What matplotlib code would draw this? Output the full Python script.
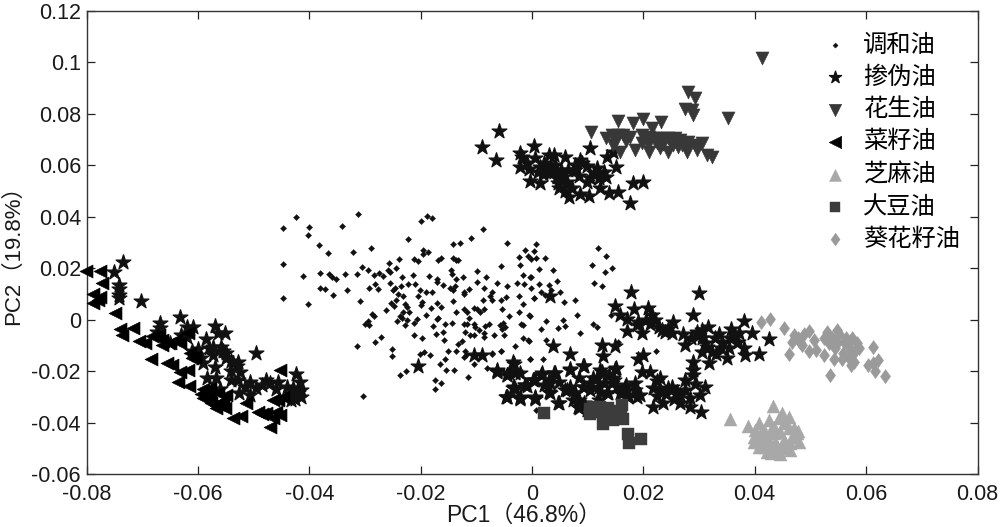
import matplotlib
matplotlib.use("Agg")
import matplotlib.pyplot as plt
import numpy as np

plt.rcParams['font.family'] = ['Liberation Sans', 'Noto Sans CJK SC']

# scores are written in units of 1e-3 and scaled when plotted
blend_x = [-44.8,-42.4,-40.1,-40.3,-44.8,-41.2,-44.8,-40.3,-38.2,-36.6,-38.1,-36.4,-35.9,-35.2,-38.1,-37.2,-35.8,-33.3,-33.5,-34.2,-31.3,-32.1,-29.0,-31.5,-30.6,-29.4,-30.9,-29.2,-28.2,-27.6,-28.4,-27.4,-26.7,-25.7,-23.9,-25.8,-24.5,-25.5,-25.5,-23.3,-21.4,-22.2,-20,-18.9,-17.9,-8.8,-11,-14.2,-13,-4.5,-19.5,-19.6,-18.6,-21.2,-20.4,-16.8,-16.4,-14.1,-13.7,-13.2,-14.6,-14.3,-9.9,-5.5,-2.1,-2.4,-1.2,-0.8,-0.2,0.4,0.8,0.7,-18.5,-17.1,-17.1,-13.6,-12.4,-9.9,-8.3,-6.3,-4.4,-2.7,-1.4,-1.7,-0.2,-0.2,1.3,-15.9,-14.8,-14.2,-13.8,-21,-22.2,-23.6,-24.6,-24.9,-20.2,-19.1,-17.9,-24,-23.1,-20.4,-19.7,-20,-24.4,-25.4,-24.8,-26.2,-22.8,-22.5,-22,-23.1,-28.8,-28.4,-29.5,-30,-29.2,-24.3,-23.7,-23.4,-22.8,-22.4,-21.2,-20.6,-19.1,-18.1,-17.1,-16.3,-14.2,-13.7,-12.3,-12.3,-12.2,-11.3,-8.7,-8.8,-10.4,-9.9,-11.6,-8.7,-9.3,-11.3,-7.2,-7.5,-7.2,-5.6,-4.7,-5.4,-2.3,-1.7,-2.4,-4.2,0.4,-0.3,-2,-1.7,-5.7,-5.2,-4.8,-5.4,-7.8,-8.4,-12.3,-11.7,-10.4,-10.2,-12,-14.4,-15.6,-16.9,-17.1,-17.7,-17.3,-16,-15.8,-21.2,-19.7,-27.2,-28.2,-31.5,-25.1,-25.1,-20.1,-19.4,-18.3,-16.6,-15.6,-15.4,-14,-23.7,-22.7,-17.5,-16.3,-17.5,-11.5,-30.3,-15,-13.6,-13.2,-12.6,-12,-11.9,-12.3,-10.4,-7.2,-5.5,-3,-8,-11.1,-10.5,-9.6,-8.7,-8.7,-6.9,-5.1,-1.7,-0.6,-0.3,5.8,8,5.6,6,4.7,10.9,11.7,8.6,2.5,1.7,2.5,-0.7,-5.6,-0.4,2,-7.2,15.5,22.2,14.1,1.7,0.4,-0.5,0.8,11.9,13.3,10.8,14.4,13.1,2.3,3.8,2.3,5,7.7,-0.4,11.2,12.5,3.1,3.4,4.4,1.2]
blend_y = [35.5,39.9,36.0,32.9,21.8,16.8,8.4,6.2,28.9,25.8,18.1,17.6,16.6,15.9,12.4,12.0,9.7,11.5,17.6,36.4,41.0,26.2,28.0,17.6,20.5,19.4,7.1,12.4,13.7,12.0,17.2,18.1,16.8,22.1,23.4,19.2,20.0,18.5,14.2,16.4,17.2,31.5,38.2,40.4,39.5,35.1,31.9,29.3,29.8,29.8,27,25.6,26.2,23.4,22.9,23.1,24.1,24.1,23.1,23.1,19.4,17.6,19,20.8,21.4,24.4,27.2,24.6,23.6,26.7,29.4,24.1,16.8,15.9,14.5,15.9,16.4,14.6,16.4,14.2,12.9,14.2,13.7,17.2,16.4,12.4,13.7,13.3,12.4,11.6,13.1,14,13.7,13.2,12.4,11.4,11.6,10.6,10.6,10.1,9.3,9.2,6.8,5.7,7.7,6.6,5.2,3.9,6.2,4.9,3,3,2.3,1.4,-0.6,-1.8,-2.2,-0.6,1.6,0.7,-1.9,-0.3,-1.3,0.4,2,4.5,6.6,4.9,7.1,2.9,4,10.7,9.8,12,12.4,7.5,4.6,4.1,2.9,4.2,2.9,0.7,10.7,9.2,7.5,7.5,8.8,4.2,9.2,6.2,2.9,1.6,8.4,1.6,-1.6,-2.2,-2.2,-1.3,-2.9,-3.5,-1.8,-2.6,-1.8,-1.8,-1.6,-2.9,-4.8,-1.2,-1.8,0.7,0.4,-2.5,-5.5,-4.8,-7.8,-6,-7.3,-6.8,-8.6,-10.4,-11.3,-14.3,-13.5,-12.6,-13.9,-17.2,-15.2,-19.4,-19.4,-21.6,-20.1,-23.6,-24.7,-26.9,-22.3,-29.6,-12.2,-12,-9.6,-8.1,-12,-13.7,-14.6,-17.4,-13.3,-12.2,-10.3,-18.8,-6.1,-6.1,-4.2,-5.2,-6.8,-6.1,-5.9,-7,-8.1,-15.2,6.9,1.7,0,-2.6,-3.1,-1.8,-2.9,-5.2,-0.5,-3.5,-8,-8,-12,-15.2,-15.2,-12.9,-8.7,-12.2,1.9,10.8,8.5,1.7,-35.3,28,24.6,21.2,20,18.6,23.9,19.2,9.5,10.6,7.5,16.5,14.1,13.2,13.6,11.4,15.2,19.7]

adult_x = [-73.4,-75.1,-74.2,-74.2,-74.2,-74.2,-70.3,-66.8,-66.8,-67.3,-63.2,-62,-60.8,-62,-57,-56.4,-55.2,-58.6,-49.5,-60.2,-59,-57.3,-55.8,-54.9,-57.3,-57,-58.4,-56.7,-53.7,-52.8,-52.5,-54,-52.8,-50.7,-49.5,-47.7,-47,-45.6,-42.3,-41.7,-41.4,-42,-42.9,-44.1,-43.2,-52.6,-50.7,
 -55,-54,-53,-55.5,-60,-59.5,-61,-58,-54,-51.5,-46,-44,-43,-41.5,-42.5,-48.5,-63,-65,-56,
 -5.9,-9,-6.5,0.3,-2.1,-1.8,-2.2,0.6,-0.9,3,3.9,6,1.5,2.7,4.2,3.3,4.5,5.1,-0.3,1.4,6.3,7.2,4.8,6.6,8.7,10.2,7.8,8.7,7.8,9.9,11.7,11.1,9.9,12.3,13.2,10.5,13.4,14.6,15.1,13.9,15.4,18.1,19.9,17.6,
 2.2,2,3.5,4,5.2,5.5,1,-0.5,6.5,4.7,6,8.5,9,12,13,10.5,
 3.2,17.8,29.9,14.9,18.3,20.9,15.8,17,21.5,22.1,28.9,25.4,18.8,21.2,17,19.8,23.3,23.9,25.1,27.2,29.6,31.6,30.5,29.9,38.1,35.7,37.1,39.5,42.5,32.9,34.1,35.3,35.6,38,38.3,40.7,27.5,30.5,32.3,31.7,35,29,29,27.5,29,3.8,6.8,12.5,14.9,12.8,19.9,19.1,-3.4,-6.2,-4.2,-3,6.8,9.2,12.2,14.9,11,19.7,21.2,23,4.1,1.7,0.2,3,-1.3,-3.4,-4.6,-2.2,0.5,3.2,4.7,6.2,7.7,7.4,8.3,9.8,9.2,10.4,12,14.3,14.6,13.7,12,16.7,17.3,19.4,15.8,21.8,21.8,23.6,24.5,25.1,26.6,26.5,28.4,28.4,30.3,30.2,31.1,23,18.5,
 -20.5,-10.4,-9,-6.2,-3.3,-3.3,-4.5,-3,-4.5,-2.1,0.6,-0.9,0.6,
 -6.3,-4.5,-3,-2.1,-3.3,-1.2,0.3,-4.5,-2.1,0.6,1.8,3.9,3.3,2.1,4.8,3,4.8,6,6.9,7.8,6.9,9.3,8.4,9.3,8.4,9.3,8.4,10.5,11.7,12.6,12.9,13.8,15,14.7,15.3,13.5,12.3,16.8,18.5,18.8,17.3,16.2,
 22.5,24,25.5,27.5,22.5,26,29.3,33.5,31,33,31.5,34,36.5,37,28.5,30.5,19,20.5,22.8,24.5]
adult_y = [22.5,18.6,13.5,11.8,9.6,8.3,7.4,-1.4,-3.4,-4.7,0.9,-2.7,-3,-6.6,-2.5,-5.1,-5.1,-7.6,-13.1,-13.7,-17,-10.5,-10.5,-13.1,-13.7,-18.3,-22.8,-22.8,-17,-16.3,-20.2,-23.4,-23.4,-24.1,-26.7,-23.4,-24.8,-24.1,-21.1,-24.1,-27.3,-28.6,-29.9,-29.9,-31.2,-28.4,-29.3,
 -15,-16,-18,-12,-11.5,-15,-12,-11,-20,-26,-27,-26,-26.5,-30,-31,-25.5,-6,-9,-27,
 73.5,67.2,62,67.5,64.7,63.1,59.5,62.7,60.8,64,64,63.4,59.5,58.8,60.1,56.9,55.6,54.3,54,53,53.6,51,51,47.8,48.9,48.1,60.1,62.1,58.2,59.7,58.8,56.9,53.6,51,55.3,66.9,63.1,65.3,59.5,49.1,49.8,53.3,53.6,45.2,
 61,56.5,59.5,57.5,58,55.5,57.5,58.5,58,53,50,56,60.8,55,57.5,55,
 9.2,10.9,10.2,5.3,4,4.4,1.8,0.1,1.8,-0.2,1.8,-1.1,-2.1,-1.5,-4.3,-5.1,-4,-4.7,-5.3,-5.6,-4.7,-2.7,-7.3,-6,-0.4,-3.8,-5.3,-5.3,-7.7,-7.3,-8.6,-11.2,-7.3,-11.2,-13.8,-13.5,-9.9,-12.5,-12.5,-17,-15,-16.4,-19.6,-23.5,-21.5,-10.3,-13.4,-9.9,-10.3,-14.1,-13.8,-15.4,-16.3,-19.6,-20.9,-20.2,-19.3,-18,-19.6,-19,-22.8,-20.2,-20.2,-22.8,-20.9,-21.5,-23.5,-23.5,-25.4,-26.7,-30.2,-30.2,-30.2,-28.7,-32.5,-27.4,-28.7,-31.2,-33.8,-35.1,-26.1,-27.4,-26.1,-24.8,-22.8,-28.7,-31.2,-26.1,-29.3,-29.3,-28.7,-26.7,-34.1,-32.5,-26.7,-26.1,-29.3,-32.5,-30.6,-33.8,-35.8,-29.3,-26.3,-27.4,-24.8,
 -18.1,-13.9,-13.9,-20.4,-17.2,-20.4,-21.7,-26.9,-30.1,-30.8,-23.6,-25.6,-30.8,
 -19.8,-21.5,-20.9,-20.9,-26,-25.4,-23.5,-30,-30.6,-30.6,-20.9,-20.9,-24.8,-25.4,-24.1,-28,-32.5,-27.3,-26,-28.6,-19.6,-18,-22.8,-26,-31.2,-32.5,-34.5,-24.8,-22.8,-20.2,-24.8,-21.5,-18.9,-23.5,-26,-28.6,-28,-25.4,-27.3,-30,-30,-28.6,
 -24,-29,-31,-27.5,-29.5,-28,-25,-5.5,-9,-13.5,-10.5,-11,-6.5,-8.5,-7,-4,-1,0,-3,-3.5]

peanut_x = [10.6,15.5,18.1,19.9,23.2,21.5,28,29.3,27.5,28.7,29,35.2,41.3,13.2,14.3,15.5,16.4,17.6,14.6,15.8,18.5,19.7,21,22.1,23.3,24.5,25.7,26.6,28.1,19.7,21,21,22.4,23.6,24.5,25.4,26.3,27.8,28.1,29.3,30.5,29.6,31.4,32.3,15,16.8,20.5,22,23,25,27]
peanut_y = [73.1,77.2,76.6,77.9,77,74.4,88.4,86,81.8,81.5,79.6,78.3,101.8,70.5,71.8,71.8,71.8,71.1,67.9,65.3,66,71.8,71.1,70.5,70.5,70.5,70.5,69.8,69.2,68.5,68.5,65.3,68.5,68.3,65.3,67.9,67.3,65.3,67.3,67.9,68.5,66,64,63.1,69.5,69.5,69.8,69.5,66.8,68.8,67.8]

rapeseed_x = [-80.1,-77.6,-77.2,-78.8,-77.6,-77.9,-78.8,-74.8,-73.9,-73.7,-71.7,-70.6,-69.5,-68.3,-68.4,-66.4,-66.5,-65,-63.2,-65.6,-64.7,-63.2,-61.7,-63.5,-61.6,-60.5,-58.7,-59,-57.8,-57.6,-56.4,-57.8,-56.7,-55.2,-54.9,-53.7,-52.2,-51.3,-49.2,-47.7,-47.1,-45.3,-46.5,-45.3,-45.6,-44.7,-46.5,-61.7,-59,-58,-57,-55.5,-56,-59.5,-48.5,-46,-61.5,-61,-67,-64]
rapeseed_y = [18.9,18.9,14.4,10,8.9,7.6,6.6,2.7,-3.8,-6,-3.4,-8.2,-9,-6.4,-15.3,-7.9,-9.8,-9.2,-9.2,-16.7,-17.6,-20.2,-19.6,-24.4,-25.8,-14.4,-28,-30.6,-29.9,-32.5,-28.6,-26.7,-34.5,-34.5,-29.3,-38.3,-37.4,-32.5,-35.8,-36.4,-41.6,-37.1,-38.3,-19.6,-31.2,-29.9,-31.2,-5.3,-27,-31,-33,-31.5,-33,-29,-36.5,-36,-13,-15,-6,-8]

sesame_x = [35.6,43.2,38.7,40.7,42.6,44.9,46.2,44.3,47.7,48,46.4,44.5,42.2,40.7,39.8,41.6,43.4,45.2,41,42.2,43.4,44.6,46.1,41,42.5,43.7,45.2,46.7,43.7,45.2,46.4,42.8,41.9,40,39.9,40.9,47,47.5,42.9,44]
sesame_y = [-38.6,-33.6,-41.4,-40.3,-39,-36.4,-37.7,-38.4,-43.2,-47.5,-50.7,-52.2,-51.3,-49.4,-45.5,-42.9,-41.6,-40.3,-44.9,-45.5,-44.2,-43.6,-42.3,-47.5,-48.1,-47.5,-46.8,-45.5,-50.7,-50,-48.1,-43.6,-49.4,-43,-47.5,-46.5,-42,-44,-52,-49]

soybean_x = [2.2,10.4,12.2,13.7,13.1,16.1,15.2,16.4,14,12.8,17.3,17.4,19.5,11,11.8,13,15,15.8,14.5,16,10.5]
soybean_y = [-36.4,-34.9,-34.1,-34.5,-37.1,-33.2,-38.4,-38.8,-37.7,-40.7,-44.5,-47.8,-46.3,-33.8,-36,-35.5,-36,-35.5,-39,-36.5,-36.5]

sunflower_x = [41.1,42.8,45.2,47.1,46.7,46.1,48.2,48.8,49.7,48.5,49.8,51,50.6,52.4,53,54.8,53.3,52.4,54.2,54.5,55.7,53.6,56.3,57.5,58.4,58.7,57.5,57.8,57.2,56,56.9,55.1,54.8,61.3,62.2,60.4,61.3,61.6,63.3,47.8,55.8,57,58,53.9]
sunflower_y = [-0.8,0.2,-3.4,-6,-8.6,-13.4,-8.6,-5.4,-4.3,-9.9,-12.1,-11.6,-7.9,-7.3,-4.7,-4.1,-9.2,-13.8,-15.1,-11.2,-15.1,-21.5,-7.3,-7.3,-9.2,-11.2,-13.8,-16.4,-17.7,-8.6,-10.5,-5.4,-9.2,-10.8,-15.5,-17.7,-17,-19.9,-21.9,-7,-13,-15,-12,-7]

labels = ['调和油', '掺伪油', '花生油', '菜籽油', '芝麻油', '大豆油', '葵花籽油']
x_ticks = [-0.08, -0.06, -0.04, -0.02, 0, 0.02, 0.04, 0.06, 0.08]
y_ticks = [-0.06, -0.04, -0.02, 0, 0.02, 0.04, 0.06, 0.08, 0.1, 0.12]

diamond = [(0, 1), (0.72, 0), (0, -1), (-0.72, 0)]
small_diamond = [(0, 1), (1, 0), (0, -1), (-1, 0)]

fig = plt.figure(figsize=(10, 5.27), dpi=100)
ax = fig.add_axes([0.0865, 1 - 474 / 527, 0.891, 463 / 527])

series = [
    (blend_x, blend_y, small_diamond, 20, '#111111', 0.3),
    (adult_x, adult_y, '*', 125, '#111111', 0.9),
    (peanut_x, peanut_y, 'v', 88, '#383838', 0.4),
    (rapeseed_x, rapeseed_y, '<', 88, '#000000', 0.4),
    (sesame_x, sesame_y, '^', 88, '#a8a8a8', 0.3),
    (soybean_x, soybean_y, 's', 66, '#3c3c3c', 0.3),
    (sunflower_x, sunflower_y, diamond, 105, '#9a9a9a', 0.3),
]
for (xs, ys, marker, size, color, edge), label in zip(series, labels):
    ax.scatter(np.array(xs) / 1000, np.array(ys) / 1000, marker=marker, s=size,
               color=color, linewidths=edge, label=label, clip_on=False, zorder=3)

ax.set_xlim(-0.08, 0.08)
ax.set_ylim(-0.06, 0.12)
ax.set_xticks(x_ticks)
ax.set_xticklabels([str(t) for t in x_ticks])
ax.set_yticks(y_ticks)
ax.set_yticklabels([str(t) for t in y_ticks])
ax.tick_params(axis='both', direction='in', length=6, width=0.9, labelsize=15.5, top=True, right=True,
               color='#222222', labelcolor='#1a1a1a')
ax.tick_params(axis='x', pad=7)
ax.tick_params(axis='y', pad=4)
for spine in ax.spines.values():
    spine.set_linewidth(1.0)
    spine.set_color('#333333')

ax.set_xlabel('PC1（46.8%）', fontsize=16.5, color='#1a1a1a')
ax.xaxis.set_label_coords(0.491, -0.065, transform=ax.transAxes)
ax.set_ylabel('PC2（19.8%）', fontsize=16, color='#1a1a1a')
ax.yaxis.set_label_coords(-0.07, 0.484, transform=ax.transAxes)

leg = ax.legend(loc='upper left', bbox_to_anchor=(0.805, 0.965), frameon=False,
                fontsize=17.5, labelspacing=0.4, handletextpad=0.15, borderpad=0.3,
                borderaxespad=0, scatterpoints=1)
for handle, size in zip(leg.legend_handles, [14, 85, 80, 80, 75, 62, 85]):
    handle.set_sizes([size])

fig.savefig('out.png', dpi=100)
